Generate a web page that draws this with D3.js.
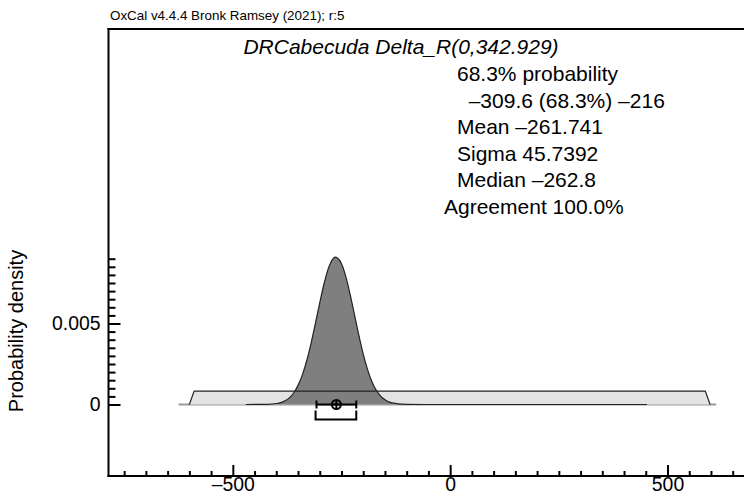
<!DOCTYPE html>
<html>
<head>
<meta charset="utf-8">
<script src="https://cdn.jsdelivr.net/npm/d3@7"></script>
<style>
  body { margin: 0; background: #fff; }
  svg { display: block; font-family: "Liberation Sans", Arial, Helvetica, sans-serif; }
</style>
</head>
<body>
<svg id="chart" width="744" height="495"></svg>
<script>
// values
let headerText = "OxCal v4.4.4 Bronk Ramsey (2021); r:5"
let titleText = "DRCabecuda Delta_R(0,342.929)"
let statLines = ["68.3% probability", "  –309.6 (68.3%) –216", "Mean –261.741", "Sigma 45.7392", "Median –262.8", "Agreement 100.0%"]
let xMajorTicks = [-500, 0, 500]
let xTickLabels = ["–500", "0", "500"]
let yMajorTicks = [0, 0.005]
let yTickLabels = ["0", "0.005"]
let yLabel = "Probability density"

// prior: uniform Delta_R
let priorX = [-600, -589, 587, 598]
let priorDensity = [0, 0.00083, 0.00083, 0]
let priorRange = [-625, 612]

// posterior
let postX = [-470, -420, -400, -390, -380, -370, -360, -350, -340, -330, -320, -310, -300, -290, -280, -270, -264, -260, -250, -240, -230, -220, -210, -200, -190, -180, -170, -160, -150, -140, -130, -120, -100, -60, 453]
let postDensity = [0, 0.00001, 0.00006, 0.00012, 0.00023, 0.00041, 0.00071, 0.00118, 0.00183, 0.0027, 0.00378, 0.00501, 0.00628, 0.00747, 0.00842, 0.00898, 0.0091, 0.00906, 0.00869, 0.00789, 0.00678, 0.00552, 0.00426, 0.00311, 0.00215, 0.00141, 0.00088, 0.00052, 0.00029, 0.00015, 0.00008, 0.00004, 0.00001, 0, 0]

let mean = -261.741
let sigma = 45.7392
let rangeLow = -309.6
let rangeHigh = -216

let svg = d3.select("#chart")
let plotLeft = 108.5, plotRight = 744, plotTop = 29, plotBottom = 476

let xScale = d3.scaleLinear().domain([-786, 676]).range([plotLeft, plotRight])
let yScale = d3.scaleLinear().domain([0, 0.005]).range([404.5, 323.5])

// header + frame
svg.append("text")
    .attr("x", 110).attr("y", 20)
    .attr("font-size", "13.4px")
    .text(headerText)

svg.append("line")
    .attr("x1", plotLeft - 1).attr("x2", plotRight).attr("y1", plotTop).attr("y2", plotTop)
    .attr("stroke", "#000").attr("stroke-width", 2)

// title and stats
svg.append("text")
    .attr("x", 401).attr("y", 54)
    .attr("text-anchor", "middle")
    .attr("font-size", "21px")
    .attr("font-style", "italic")
    .text(titleText)

let statX = [457, 457, 457, 457, 457, 444]
svg.selectAll(".stat")
    .data(statLines)
    .enter()
    .append("text")
    .attr("class", "stat")
    .attr("x", (d, i) => statX[i])
    .attr("y", (d, i) => 81 + i * 26.6)
    .attr("font-size", "21px")
    .style("white-space", "pre")
    .text(d => d)

// prior range line on the baseline
svg.append("line")
    .attr("x1", xScale(priorRange[0])).attr("x2", xScale(priorRange[1]))
    .attr("y1", yScale(0)).attr("y2", yScale(0))
    .attr("stroke", "#999").attr("stroke-width", 2)

let priorPts = priorX.map((x, i) => [x, priorDensity[i]])
let postPts = postX.map((x, i) => [x, postDensity[i]])

let area = d3.area()
    .x(d => xScale(d[0]))
    .y0(yScale(0))
    .y1(d => yScale(d[1]))
let line = d3.line()
    .x(d => xScale(d[0]))
    .y(d => yScale(d[1]))

svg.append("path")
    .attr("d", area(priorPts))
    .attr("fill", "#e3e3e3")

svg.append("path")
    .attr("d", area.curve(d3.curveMonotoneX)(postPts))
    .attr("fill", "#7f7f7f")
svg.append("path")
    .attr("d", line.curve(d3.curveMonotoneX)(postPts))
    .attr("fill", "none")
    .attr("stroke", "#222").attr("stroke-width", 1.2)

svg.append("path")
    .attr("d", line.curve(d3.curveLinear)(priorPts))
    .attr("fill", "none")
    .attr("stroke", "#222").attr("stroke-width", 1.2)

// mean +- sigma bar
let y0 = yScale(0)
let g = svg.append("g").attr("stroke", "#000").attr("stroke-width", 2).attr("fill", "none")
g.append("line")
    .attr("x1", xScale(mean - sigma)).attr("x2", xScale(mean + sigma))
    .attr("y1", y0).attr("y2", y0)
g.selectAll(".endTick")
    .data([mean - sigma, mean + sigma])
    .enter().append("line")
    .attr("x1", d => xScale(d)).attr("x2", d => xScale(d))
    .attr("y1", y0 - 4).attr("y2", y0 + 4)
g.append("circle")
    .attr("cx", xScale(mean)).attr("cy", y0).attr("r", 4.5)
g.append("line")
    .attr("x1", xScale(mean) - 4.5).attr("x2", xScale(mean) + 4.5)
    .attr("y1", y0).attr("y2", y0)
g.append("line")
    .attr("x1", xScale(mean)).attr("x2", xScale(mean))
    .attr("y1", y0 - 4.5).attr("y2", y0 + 4.5)

// 68.3% range bracket
g.append("path")
    .attr("d", "M" + xScale(rangeLow) + "," + (y0 + 6) + "V" + (y0 + 15) + "H" + xScale(rangeHigh) + "V" + (y0 + 6))

// axes
let xMinor = d3.range(-750, 676, 50).filter(v => v % 500 != 0)
let yMinor = d3.range(0.0005, 0.0091, 0.0005).filter(v => Math.abs(v - 0.005) > 1e-9)

let axisStyle = sel => {
    sel.select(".domain").remove()
    sel.selectAll("line").attr("stroke", "#000").attr("stroke-width", 2)
    sel.selectAll("text").attr("font-size", "19.4px").attr("fill", "#000")
}

svg.append("g")
    .attr("transform", "translate(0," + plotBottom + ")")
    .call(d3.axisTop(xScale).tickValues(xMinor).tickSize(5).tickFormat(""))
    .call(axisStyle)
svg.append("g")
    .attr("transform", "translate(0," + plotBottom + ")")
    .call(d3.axisTop(xScale).tickValues(xMajorTicks).tickSize(11).tickFormat(""))
    .call(axisStyle)
svg.append("g")
    .attr("transform", "translate(0," + plotBottom + ")")
    .call(d3.axisBottom(xScale).tickValues(xMajorTicks).tickSize(0).tickPadding(1)
        .tickFormat((d, i) => xTickLabels[i]))
    .call(axisStyle)

svg.append("g")
    .attr("transform", "translate(" + plotLeft + ",0)")
    .call(d3.axisRight(yScale).tickValues(yMinor).tickSize(7).tickFormat(""))
    .call(axisStyle)
svg.append("g")
    .attr("transform", "translate(" + plotLeft + ",0)")
    .call(d3.axisRight(yScale).tickValues(yMajorTicks).tickSize(12).tickFormat(""))
    .call(axisStyle)
svg.append("g")
    .attr("transform", "translate(" + plotLeft + ",0)")
    .call(d3.axisLeft(yScale).tickValues(yMajorTicks).tickSize(0).tickPadding(8)
        .tickFormat((d, i) => yTickLabels[i]))
    .call(axisStyle)

// axis lines
svg.append("line")
    .attr("x1", plotLeft).attr("x2", plotLeft).attr("y1", plotTop - 1).attr("y2", plotBottom + 1)
    .attr("stroke", "#000").attr("stroke-width", 2)
svg.append("line")
    .attr("x1", plotLeft - 1).attr("x2", plotRight).attr("y1", plotBottom).attr("y2", plotBottom)
    .attr("stroke", "#000").attr("stroke-width", 2)

svg.append("text")
    .attr("transform", "translate(23,331) rotate(-90)")
    .attr("text-anchor", "middle")
    .attr("font-size", "20px")
    .text(yLabel)
</script>
</body>
</html>
